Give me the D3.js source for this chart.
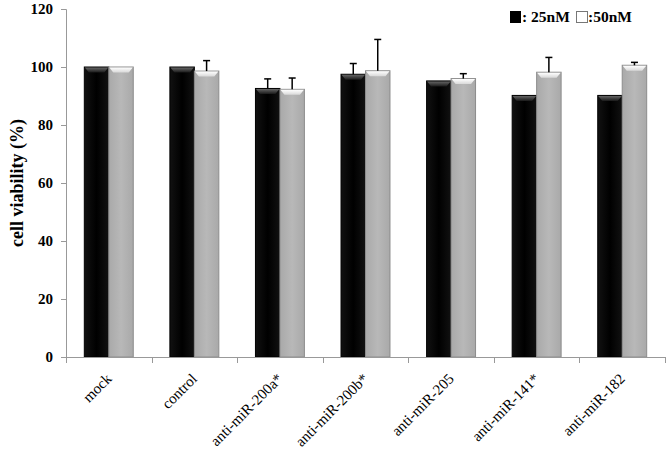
<!DOCTYPE html>
<html><head><meta charset="utf-8">
<script src="https://cdn.jsdelivr.net/npm/d3@7"></script>
<style>html,body{margin:0;padding:0;background:#fff;}svg{display:block;}</style>
</head><body>
<script>
const categories = ["mock","control","anti-miR-200a*","anti-miR-200b*","anti-miR-205","anti-miR-141*","anti-miR-182"];
const series = ["25nM","50nM"];
const values25 = [100,100,92.6,97.5,95.2,90.2,90.2];
const values50 = [100,98.6,92.3,98.7,96.0,98.2,100.6];
const err25 = [0,0,3.3,3.7,0,0,0];
const err50 = [0,3.6,3.9,10.8,1.7,5.1,1.0];
const yTicks = [0,20,40,60,80,100,120];

const W = 669, H = 453;
const svg = d3.select("body").append("svg").attr("width", W).attr("height", H);
const defs = svg.append("defs");
function grad(id, stops, horiz){
  const g = defs.append("linearGradient").attr("id", id)
    .attr("x1",0).attr("y1",0).attr("x2",horiz?1:0).attr("y2",horiz?0:1);
  stops.forEach(s=>g.append("stop").attr("offset",s[0]).attr("stop-color",s[1]));
}
grad("gBlack", [[0,"#111"],[0.5,"#000"],[1,"#111"]], true);
grad("gGray", [[0,"#a9a9a9"],[0.5,"#b8b8b8"],[1,"#a9a9a9"]], true);
grad("capBlack", [[0,"#666"],[1,"#1a1a1a"]], false);
grad("capGray", [[0,"#ffffff"],[1,"#d8d8d8"]], false);

const plotLeft = 66, plotRight = 665, plotTop = 9, plotBottom = 357;
const y = d3.scaleLinear().domain([0,120]).range([plotBottom, plotTop]);
const x0 = d3.scaleBand().domain(categories).range([plotLeft, plotRight]).padding(0);
const bw = x0.bandwidth();
const x1 = d3.scaleBand().domain(series).range([bw*0.214, bw*0.786]).padding(0);

const rows = categories.map((c,i)=>({c, vals:[
  {s:"25nM", v:values25[i], e:err25[i]},
  {s:"50nM", v:values50[i], e:err50[i]}]}));

// bars
const g = svg.append("g");
const grp = g.selectAll("g.cat").data(rows).join("g").attr("transform", d=>`translate(${x0(d.c)},0)`);
const bar = grp.selectAll("g.bar").data(d=>d.vals).join("g");
bar.append("rect")
  .attr("x", d=>x1(d.s)).attr("width", x1.bandwidth())
  .attr("y", d=>y(d.v)).attr("height", d=>y(0)-y(d.v))
  .attr("fill", d=>d.s==="25nM"?"url(#gBlack)":"url(#gGray)")
  .attr("stroke", d=>d.s==="25nM"?"#000":"#8c8c8c").attr("stroke-width",1);
bar.append("path")
  .attr("d", d=>{
    const xa = x1(d.s)+0.5, xb = x1(d.s)+x1.bandwidth()-0.5, ya = y(d.v)+0.5, h = 5;
    return `M${xa},${ya}L${xb},${ya}L${xb-4},${ya+h}L${xa+4},${ya+h}Z`;
  })
  .attr("fill", d=>d.s==="25nM"?"url(#capBlack)":"url(#capGray)");

// error bars
const eb = bar.filter(d=>d.e>0);
eb.append("line")
  .attr("x1", d=>x1(d.s)+x1.bandwidth()/2).attr("x2", d=>x1(d.s)+x1.bandwidth()/2)
  .attr("y1", d=>y(d.v)).attr("y2", d=>y(d.v+d.e))
  .attr("stroke","#000").attr("stroke-width",1.5);
eb.append("line")
  .attr("x1", d=>x1(d.s)+x1.bandwidth()/2-3.5).attr("x2", d=>x1(d.s)+x1.bandwidth()/2+3.5)
  .attr("y1", d=>y(d.v+d.e)).attr("y2", d=>y(d.v+d.e))
  .attr("stroke","#000").attr("stroke-width",1.5);

// y axis
const yAxis = svg.append("g").attr("transform",`translate(${plotLeft},0)`)
  .call(d3.axisLeft(y).tickValues(yTicks).tickSize(5).tickPadding(8));
yAxis.select(".domain").attr("stroke","#999");
yAxis.selectAll(".tick line").attr("stroke","#999");
yAxis.selectAll("text").attr("font-family","'Liberation Serif', 'Times New Roman', serif")
  .attr("font-weight","bold").attr("font-size",15).attr("fill","#000");

// x axis
const xAxisG = svg.append("g");
xAxisG.append("line").attr("x1",plotLeft).attr("x2",plotRight).attr("y1",plotBottom+0.5).attr("y2",plotBottom+0.5).attr("stroke","#999");
const bounds = categories.map(c=>x0(c)).concat([x0(categories[categories.length-1])+bw]);
xAxisG.selectAll("line.t").data(bounds).join("line").attr("class","t")
  .attr("x1",d=>Math.round(d)+0.5).attr("x2",d=>Math.round(d)+0.5)
  .attr("y1",plotBottom).attr("y2",plotBottom+6).attr("stroke","#999");
xAxisG.selectAll("text").data(categories).join("text")
  .attr("transform", d=>`translate(${x0(d)+bw/2},${plotBottom+19}) rotate(-45)`)
  .attr("text-anchor","end").attr("dy","0.35em")
  .attr("font-family","'Liberation Serif', 'Times New Roman', serif")
  .attr("font-size",15).attr("fill","#000").text(d=>d);

// y label
svg.append("text").attr("transform",`translate(23,183) rotate(-90)`)
  .attr("text-anchor","middle")
  .attr("font-family","'Liberation Serif', 'Times New Roman', serif")
  .attr("font-weight","bold").attr("font-size",18).text("cell viability (%)");

// legend
const lg = svg.append("g").attr("font-family","'Liberation Serif', 'Times New Roman', serif")
  .attr("font-weight","bold").attr("font-size",15.5);
lg.append("rect").attr("x",510).attr("y",11).attr("width",11).attr("height",12).attr("fill","#000");
lg.append("text").attr("x",522).attr("y",22).text(": 25nM");
lg.append("rect").attr("x",576.5).attr("y",11.5).attr("width",11).attr("height",11).attr("fill","#fff").attr("stroke","#777");
lg.append("text").attr("x",588).attr("y",22).text(":50nM");
</script>
</body></html>
